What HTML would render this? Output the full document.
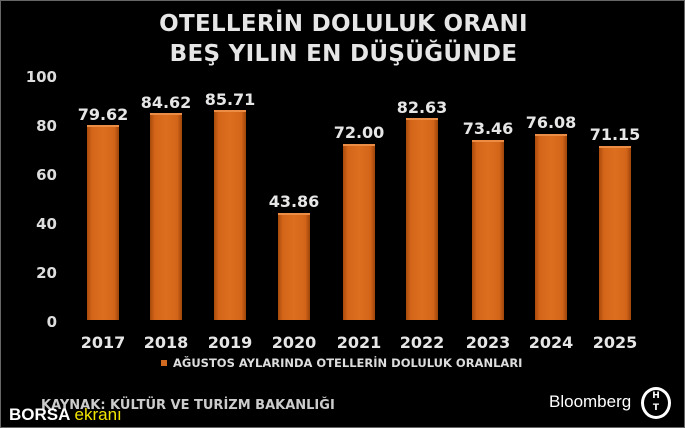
<!DOCTYPE html>
<html><head><meta charset="utf-8"><style>
body{margin:0;background:#000;}
.w{position:relative;width:685px;height:428px;background:#000;overflow:hidden;font-family:"DejaVu Sans","Liberation Sans",sans-serif;font-weight:bold;color:#eee;box-sizing:border-box;border:1px solid #666;}
.t{position:absolute;left:0;width:685px;text-align:center;font-size:23px;color:#e6e6e6;letter-spacing:0.3px;}
.yl{position:absolute;width:40px;text-align:right;left:16px;font-size:15px;color:#ddd;}
.bar{position:absolute;width:32px;bottom:107px;background:linear-gradient(90deg,#a84a0c 0%,#d4661a 15%,#dc6e1f 50%,#d4661a 85%,#9e440a 100%);border-top:2px solid #ec8d45;box-sizing:border-box;}
.v{position:absolute;width:80px;text-align:center;font-size:16px;color:#e6e6e6;}
.x{position:absolute;top:332px;width:70px;text-align:center;font-size:16px;color:#e6e6e6;}
</style></head><body><div class="w">
<div class="t" style="top:10px">OTELLERİN DOLULUK ORANI</div>
<div class="t" style="top:40px">BEŞ YILIN EN DÜŞÜĞÜNDE</div>
<div class="yl" style="top:67px">100</div>
<div class="yl" style="top:116px">80</div>
<div class="yl" style="top:165px">60</div>
<div class="yl" style="top:214px">40</div>
<div class="yl" style="top:263px">20</div>
<div class="yl" style="top:312px">0</div>

<div class="bar" style="left:86px;height:195px"></div><div class="v" style="left:62px;top:104px">79.62</div><div class="x" style="left:67px">2017</div>
<div class="bar" style="left:149px;height:207px"></div><div class="v" style="left:125px;top:92px">84.62</div><div class="x" style="left:130px">2018</div>
<div class="bar" style="left:213px;height:210px"></div><div class="v" style="left:189px;top:89px">85.71</div><div class="x" style="left:194px">2019</div>
<div class="bar" style="left:277px;height:107px"></div><div class="v" style="left:253px;top:191px">43.86</div><div class="x" style="left:258px">2020</div>
<div class="bar" style="left:342px;height:176px"></div><div class="v" style="left:318px;top:122px">72.00</div><div class="x" style="left:323px">2021</div>
<div class="bar" style="left:405px;height:202px"></div><div class="v" style="left:381px;top:97px">82.63</div><div class="x" style="left:386px">2022</div>
<div class="bar" style="left:471px;height:180px"></div><div class="v" style="left:447px;top:118px">73.46</div><div class="x" style="left:452px">2023</div>
<div class="bar" style="left:534px;height:186px"></div><div class="v" style="left:510px;top:112px">76.08</div><div class="x" style="left:515px">2024</div>
<div class="bar" style="left:598px;height:174px"></div><div class="v" style="left:574px;top:124px">71.15</div><div class="x" style="left:579px">2025</div>

<div style="position:absolute;left:160px;top:359px;width:6px;height:6px;background:#d06a20;"></div>
<div style="position:absolute;left:172px;top:355px;font-size:11.5px;color:#ddd;">AĞUSTOS AYLARINDA OTELLERİN DOLULUK ORANLARI</div>
<div style="position:absolute;left:40px;top:397px;font-size:13px;color:#ccc;">KAYNAK: KÜLTÜR VE TURİZM BAKANLIĞI</div>
<div style="position:absolute;left:8px;top:404px;font-family:'Liberation Sans',sans-serif;font-size:17px;color:#fff;">BORSA <span style="color:#f2e600;font-weight:normal">ekranı</span></div>
<div style="position:absolute;left:548px;top:391px;font-family:'Liberation Sans',sans-serif;font-weight:normal;font-size:17px;color:#fff;">Bloomberg</div>
<div style="position:absolute;left:640px;top:386px;width:24px;height:26px;border:3px solid #fff;border-radius:50%;text-align:center;font-size:9px;line-height:12px;color:#fff;">H<br>T</div>
</div></body></html>
